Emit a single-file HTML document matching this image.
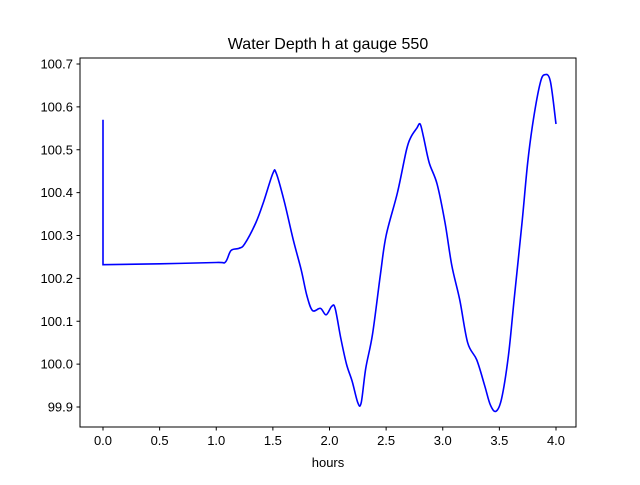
<!DOCTYPE html>
<html><head><meta charset="utf-8"><style>
html,body{margin:0;padding:0;background:#fff;}
svg text{font-family:"Liberation Sans","DejaVu Sans",sans-serif;}
</style></head><body>
<svg id="chart" width="640" height="480" xmlns="http://www.w3.org/2000/svg">
<rect width="640" height="480" fill="#fff"/>
<text x="328" y="49" text-anchor="middle" font-size="16" fill="#000">Water Depth h at gauge 550</text>
<g id="plot"></g>
<rect x="80" y="58" width="496" height="369" fill="none" stroke="#000" stroke-width="1"/>
<text x="328" y="467" text-anchor="middle" font-size="13" fill="#000">hours</text>
</svg>
<script>
const xTicks = [0, 0.5, 1.0, 1.5, 2.0, 2.5, 3.0, 3.5, 4.0];
const yTicks = [99.9, 100.0, 100.1, 100.2, 100.3, 100.4, 100.5, 100.6, 100.7];
const hours = [0,0,0.5,1.0,1.08,1.13,1.2,1.25,1.35,1.42,1.5,1.53,1.6,1.68,1.75,1.8,1.85,1.92,1.97,2.02,2.05,2.1,2.15,2.2,2.25,2.28,2.32,2.38,2.45,2.5,2.6,2.68,2.72,2.77,2.8,2.83,2.88,2.95,3.02,3.08,3.15,3.22,3.3,3.37,3.42,3.47,3.52,3.58,3.63,3.7,3.75,3.8,3.86,3.9,3.95,4.0];
const depth = [100.57,100.232,100.234,100.237,100.238,100.265,100.27,100.28,100.33,100.38,100.445,100.445,100.38,100.29,100.22,100.16,100.125,100.13,100.115,100.135,100.13,100.06,100.0,99.96,99.91,99.91,99.99,100.07,100.21,100.3,100.4,100.5,100.53,100.55,100.56,100.53,100.47,100.42,100.33,100.23,100.15,100.05,100.01,99.95,99.905,99.89,99.92,100.02,100.15,100.33,100.47,100.57,100.655,100.675,100.66,100.56];
const sx = v => 103 + v * 113.25;
const sy = v => 407 - (v - 99.9) * 428.75;
const NS = "http://www.w3.org/2000/svg";
const g = document.getElementById('plot');
function mk(tag, attrs){const e=document.createElementNS(NS,tag);for(const k in attrs)e.setAttribute(k,attrs[k]);g.appendChild(e);return e;}
xTicks.forEach(t=>{
  const l=mk('line',{x1:sx(t),x2:sx(t),y1:427,y2:430.5,stroke:'#000'});
  
  
  const tx=mk('text',{x:sx(t),y:445,'text-anchor':'middle','font-size':'13',fill:'#000'});
  tx.textContent=t.toFixed(1);
  
  
});
yTicks.forEach(t=>{
  const l=mk('line',{x1:76.5,x2:80,y1:sy(t),y2:sy(t),stroke:'#000'});
  
  
  const tx=mk('text',{x:73,y:sy(t)+4.5,'text-anchor':'end','font-size':'13',fill:'#000'});
  tx.textContent=t.toFixed(1);
  
  
});
const pts=hours.map((h,i)=>[sx(h),sy(depth[i])]);
let d='M'+pts[0][0]+','+pts[0][1];
for(let i=1;i<pts.length;i++){
  const p0=pts[Math.max(i-2,0)],p1=pts[i-1],p2=pts[i],p3=pts[Math.min(i+1,pts.length-1)];
  if(i===1||i===2){d+=' L'+p2[0]+','+p2[1];continue;}
  const c1=[p1[0]+(p2[0]-p0[0])/6,p1[1]+(p2[1]-p0[1])/6];
  const c2=[p2[0]-(p3[0]-p1[0])/6,p2[1]-(p3[1]-p1[1])/6];
  d+=' C'+c1[0]+','+c1[1]+' '+c2[0]+','+c2[1]+' '+p2[0]+','+p2[1];
}
const path=mk('path',{d:d,fill:'none',stroke:'#0000ff','stroke-width':'1.6'});


</script>
</body></html>
